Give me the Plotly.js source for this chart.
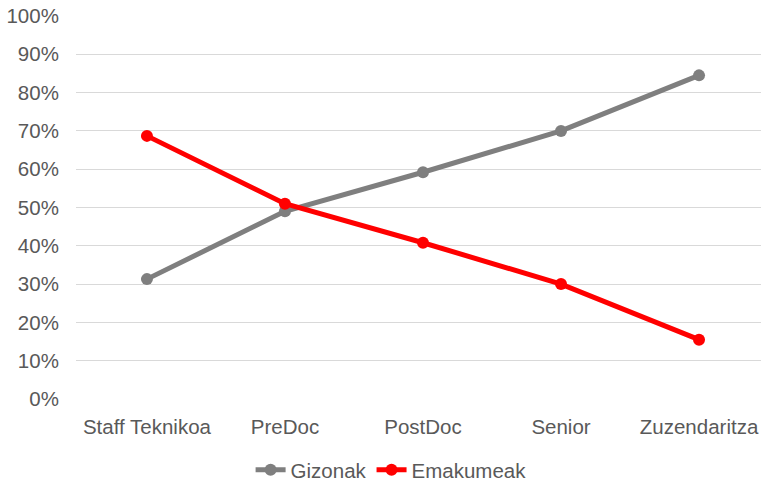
<!DOCTYPE html>
<html>
<head>
<meta charset="utf-8">
<script src="https://cdn.plot.ly/plotly-3.0.1.min.js"></script>
<style>html,body{margin:0;padding:0;background:#fff;}#chart{width:761px;height:485px;}</style>
</head>
<body>
<div id="chart"></div>
<script>
const categories = ["Staff Teknikoa", "PreDoc", "PostDoc", "Senior", "Zuzendaritza"];
const gizonak = [31.3, 49.0, 59.2, 70.0, 84.5];
const emakumeak = [68.7, 51.0, 40.8, 30.0, 15.5];
const yTickVals = [0, 10, 20, 30, 40, 50, 60, 70, 80, 90, 100];
const yTickText = ["0%", "10%", "20%", "30%", "40%", "50%", "60%", "70%", "80%", "90%", "100%"];

const font = {family: "Liberation Sans, Arial, sans-serif", size: 20.5, color: "#595959"};

const traces = [
  {x: categories, y: gizonak, name: "Gizonak", type: "scatter", mode: "lines+markers",
   line: {color: "#7f7f7f", width: 5}, marker: {color: "#7f7f7f", size: 12}},
  {x: categories, y: emakumeak, name: "Emakumeak", type: "scatter", mode: "lines+markers",
   line: {color: "#ff0000", width: 5}, marker: {color: "#ff0000", size: 12}}
];

const layout = {
  width: 761, height: 485,
  margin: {l: 76, r: 0, t: 16, b: 86, autoexpand: false},
  paper_bgcolor: "#fff", plot_bgcolor: "#fff",
  font: font,
  showlegend: true,
  legend: {orientation: "h", x: 0.46, xanchor: "center", yref: "container", y: 0.031, yanchor: "middle",
           font: font, itemwidth: 30, tracegroupgap: 0},
  xaxis: {type: "category", range: [-0.514, 4.449], showgrid: false, zeroline: false,
          showline: false, ticks: "outside", ticklen: 9, tickcolor: "rgba(0,0,0,0)",
          tickfont: font, fixedrange: true, automargin: false},
  yaxis: {range: [0, 100], tickvals: yTickVals, ticktext: yTickText, showgrid: true,
          gridcolor: "#d9d9d9", gridwidth: 1, zeroline: false, showline: false,
          ticks: "outside", ticklen: 12, tickcolor: "rgba(0,0,0,0)", tickfont: font,
          fixedrange: true, automargin: false}
};

Plotly.newPlot("chart", traces, layout, {displayModeBar: false, staticPlot: true});
</script>
</body>
</html>
